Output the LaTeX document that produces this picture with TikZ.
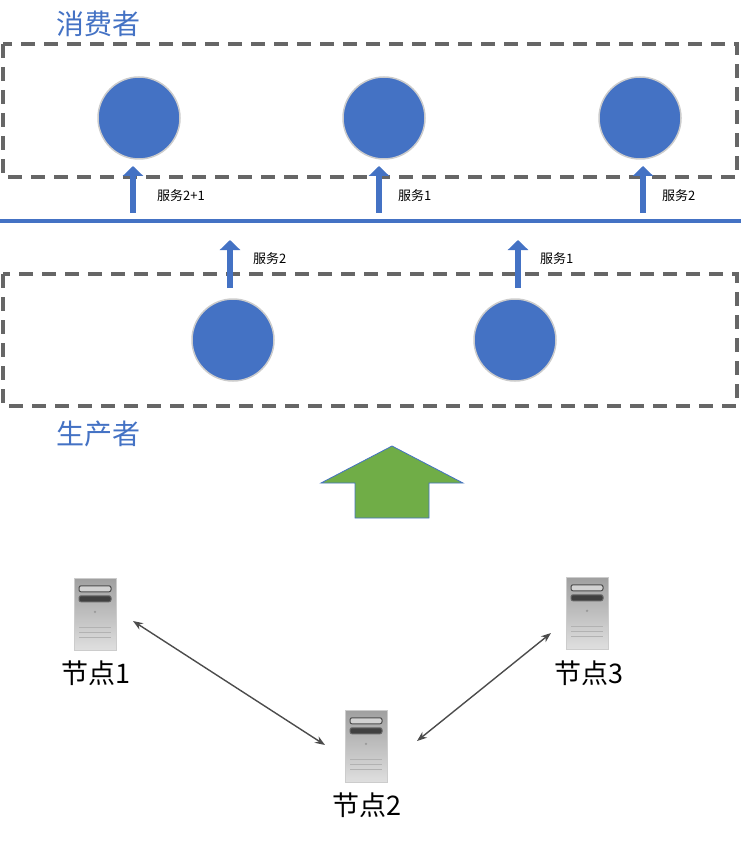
\documentclass[tikz,border=0pt]{standalone}
\usepackage{fontspec}
\newfontfamily\cjk{Noto Sans CJK SC}
\usetikzlibrary{arrows.meta,calc}
\definecolor{bl}{HTML}{4472C4}
\definecolor{gr}{HTML}{70AD47}
\tikzset{x=1pt,y=-1pt,
 dbox/.style={draw=gray!80!black,dash pattern=on 14pt off 9pt,line width=3.2pt},
 ball/.style={circle,fill=bl,draw=gray!40,line width=1.5pt,minimum size=82pt,inner sep=0},
 up/.style={draw=bl,line width=6pt,-{Triangle[length=10pt,width=20pt]}},
 lbl/.style={font=\cjk\fontsize{13}{15}\selectfont,anchor=west,inner sep=0},
 ttl/.style={font=\cjk\fontsize{28}{32}\selectfont,text=bl,anchor=west,inner sep=0},
 nlbl/.style={font=\cjk\fontsize{27}{30}\selectfont,inner sep=0},
 link/.style={draw=gray!60!black,line width=1.4pt,{Stealth[length=10pt]}-{Stealth[length=10pt]}}}
\newcommand{\srv}[3]{%
 \node[inner sep=0,minimum width=42pt,minimum height=72pt,top color=gray!75,bottom color=gray!25,draw=gray!40] (#1) at (#2,#3) {};
 \draw[fill=gray!35,draw=black!70,line width=1pt,rounded corners=2pt] ($(#1.north)+(-16,8)$) rectangle ($(#1.north)+(16,14)$);
 \draw[fill=black!75,draw=black!60,line width=1pt,rounded corners=2pt] ($(#1.north)+(-16,18)$) rectangle ($(#1.north)+(16,24)$);
 \fill[gray!80] ($(#1.north)+(0,34)$) circle (1.3);
 \foreach \d in {50,55,60}{\draw[gray!60,line width=0.8pt] ($(#1.north)+(-16,\d)$) -- ($(#1.north)+(16,\d)$);}
}
\begin{document}
\begin{tikzpicture}
\useasboundingbox (0,0) rectangle (741,842);
\draw[dbox] (3,44) rectangle (737,177);
\draw[dbox] (3,274) rectangle (737,406);
\node[ttl] at (56,24) {消费者};
\node[ttl] at (56,434) {生产者};
\node[ball] (c1) at (139,118) {};
\node[ball] (c2) at (384,118) {};
\node[ball] (c3) at (640,118) {};
\node[ball] (p1) at (233,340) {};
\node[ball] (p2) at (515,340) {};
\draw[bl,line width=4pt] (0,221) -- (741,221);
\coordinate (a1) at (133,213); \coordinate (b1) at (133,166);
\coordinate (a2) at (379,213); \coordinate (b2) at (379,166);
\coordinate (a3) at (643,213); \coordinate (b3) at (643,166);
\coordinate (a4) at (230,288); \coordinate (b4) at (230,240);
\coordinate (a5) at (518,288); \coordinate (b5) at (518,240);
\foreach \i in {1,...,5}{\draw[up] (a\i) -- (b\i);}
\node[lbl] at (157,196) {服务2+1};
\node[lbl] at (398,196) {服务1};
\node[lbl] at (662,196) {服务2};
\node[lbl] at (253,259) {服务2};
\node[lbl] at (540,259) {服务1};
\draw[fill=gr,draw=bl,line width=0.8pt] (321,483) -- (392,446) -- (463,483) -- (429,483) -- (429,518) -- (355,518) -- (355,483) -- cycle;
\srv{s1}{95}{614}
\srv{s2}{366}{746}
\srv{s3}{587}{613}
\node[nlbl] (n1) at (96,673) {节点1};
\node[nlbl] (n2) at (367,805) {节点2};
\node[nlbl] (n3) at (589,673) {节点3};
\coordinate (e1) at (133,621); \coordinate (e2) at (325,745);
\coordinate (e3) at (417,741); \coordinate (e4) at (551,633);
\draw[link] (e1) -- (e2);
\draw[link] (e3) -- (e4);
\end{tikzpicture}
\end{document}
